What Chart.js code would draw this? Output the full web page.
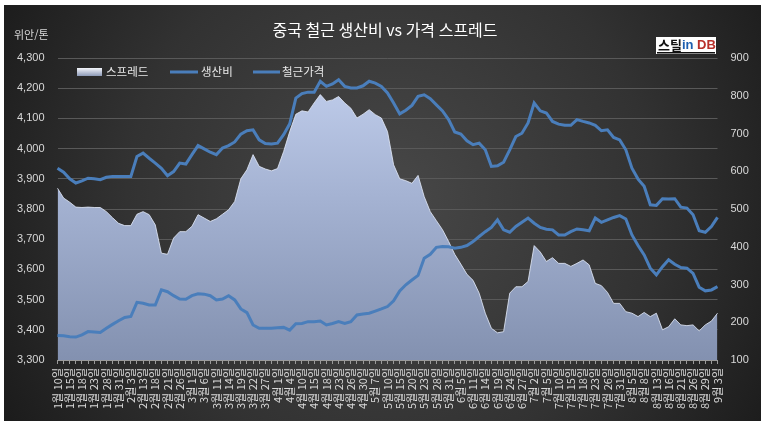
<!DOCTYPE html>
<html lang="ko">
<head>
<meta charset="utf-8">
<title>중국 철근 생산비 vs 가격 스프레드</title>
<script src="https://cdn.jsdelivr.net/npm/chart.js@4.4.1/dist/chart.umd.min.js"></script>
<style>
  html, body { margin: 0; padding: 0; background: #fff; }
  #wrap { position: relative; width: 765px; height: 425px; }
</style>
</head>
<body>
<div id="wrap"><canvas id="myChart"></canvas></div>
<script>
// labelled dates (one unlabelled point sits between each pair)
const tickDates = [
  "1월 10일", "1월 15일", "1월 18일", "1월 23일", "1월 28일", "1월 31일",
  "2월 3일", "2월 13일", "2월 18일", "2월 21일", "2월 26일",
  "3월 1일", "3월 6일", "3월 11일", "3월 14일", "3월 19일", "3월 22일", "3월 27일",
  "4월 1일", "4월 4일", "4월 10일", "4월 15일", "4월 18일", "4월 23일", "4월 26일", "4월 30일",
  "5월 7일", "5월 10일", "5월 15일", "5월 20일", "5월 23일", "5월 28일", "5월 31일",
  "6월 5일", "6월 11일", "6월 14일", "6월 19일", "6월 24일", "6월 27일",
  "7월 2일", "7월 5일", "7월 10일", "7월 15일", "7월 18일", "7월 23일", "7월 26일", "7월 31일",
  "8월 5일", "8월 8일", "8월 13일", "8월 16일", "8월 21일", "8월 26일", "8월 29일",
  "9월 3일",
];

// 스프레드 (right axis)
const spread = [
  555, 529, 518, 505, 504, 505, 504, 504, 493, 477, 462, 456, 456,
  486, 493, 485, 458, 383, 380, 423, 440, 440, 454, 485, 476,
  467, 474, 486, 498, 520, 580, 604, 644, 613, 606, 601, 607,
  652, 705, 751, 760, 757, 781, 803, 785, 789, 798, 781, 767,
  741, 751, 763, 750, 741, 705, 617, 580, 575, 568, 589, 533,
  493, 469, 445, 414, 380, 354, 327, 311, 277, 224, 184, 172,
  175, 277, 294, 294, 308, 403, 386, 361, 371, 356, 356, 348,
  356, 365, 352, 303, 297, 279, 250, 250, 228, 224, 215, 226,
  215, 224, 180, 188, 209, 193, 191, 193, 177, 193, 203, 224,
];

// 생산비 (left axis)
const cost = [
  3381, 3380, 3377, 3376, 3383, 3394, 3393, 3391, 3405, 3418, 3430, 3441, 3444,
  3491, 3488, 3482, 3482, 3532, 3526, 3513, 3502, 3501, 3513, 3519, 3518,
  3513, 3499, 3502, 3513, 3499, 3469, 3457, 3416, 3405, 3405, 3405, 3407,
  3408, 3399, 3420, 3421, 3427, 3427, 3429, 3416, 3421, 3427, 3421, 3427,
  3449, 3452, 3455, 3462, 3469, 3477, 3496, 3529, 3549, 3565, 3580, 3637,
  3650, 3673, 3676, 3675, 3670, 3673, 3679, 3692, 3709, 3725, 3739, 3764,
  3731, 3723, 3742, 3756, 3770, 3753, 3739, 3733, 3731, 3714, 3714, 3725,
  3734, 3731, 3728, 3770, 3756, 3764, 3772, 3778, 3767, 3714, 3679, 3648,
  3604, 3582, 3609, 3632, 3617, 3606, 3604, 3587, 3541, 3529, 3532, 3543,
];

// 철근가격 (left axis)
const price = [
  3935, 3922, 3900, 3886, 3893, 3902, 3900, 3897, 3905, 3908, 3908, 3908, 3908,
  3974, 3985, 3968, 3952, 3935, 3910, 3924, 3952, 3949, 3980, 4010, 3999,
  3988, 3980, 4002, 4010, 4022, 4048, 4059, 4062, 4029, 4017, 4015, 4018,
  4046, 4082, 4167, 4182, 4187, 4187, 4223, 4206, 4214, 4228, 4206, 4201,
  4201, 4208, 4223, 4217, 4206, 4184, 4151, 4115, 4127, 4143, 4173, 4178,
  4165, 4145, 4125, 4096, 4055, 4048, 4026, 4013, 4018, 3996, 3941, 3943,
  3955, 3996, 4040, 4051, 4085, 4151, 4125, 4118, 4090, 4081, 4077, 4077,
  4096, 4090, 4085, 4077, 4059, 4062, 4037, 4029, 3996, 3935, 3899, 3875,
  3814, 3812, 3834, 3833, 3834, 3806, 3803, 3781, 3728, 3723, 3742, 3772,
];

const labels = tickDates.flatMap((d, k) => (k === 0 ? [d] : ["", d]));

const KR = "'Noto Sans CJK KR', 'Noto Sans', sans-serif";
const NUM = "'Liberation Sans', Arial, sans-serif";
const LINE_BLUE = "#4a7ebb";
const TEXT = "#d9d9d9";

Chart.defaults.font.family = KR;

function spreadFill(context) {
  const area = context.chart.chartArea;
  if (!area) return "#9aa8c8";
  const g = context.chart.ctx.createLinearGradient(0, area.top, 0, area.bottom);
  g.addColorStop(0, "#c4d1ef");
  g.addColorStop(0.45, "#a5b3d3");
  g.addColorStop(1, "#8391b0");
  return g;
}

// background, title, unit, legend, logo
const decor = {
  id: "decor",
  beforeDraw(chart) {
    const ctx = chart.ctx;
    ctx.save();
    ctx.fillStyle = "#fff";
    ctx.fillRect(0, 0, chart.width, chart.height);
    const g = ctx.createRadialGradient(390, 200, 10, 390, 200, 470);
    g.addColorStop(0, "#474747");
    g.addColorStop(0.55, "#323232");
    g.addColorStop(1, "#181818");
    ctx.fillStyle = g;
    ctx.fillRect(4, 5, 757, 416);
    ctx.restore();
  },
  afterDraw(chart) {
    const ctx = chart.ctx;
    ctx.save();
    ctx.textBaseline = "middle";

    ctx.fillStyle = "#ffffff";
    ctx.font = "16px " + KR;
    ctx.textAlign = "center";
    ctx.fillText("중국 철근 생산비 vs 가격 스프레드", 385, 30);

    ctx.fillStyle = TEXT;
    ctx.font = "11px " + KR;
    ctx.textAlign = "left";
    ctx.fillText("위안/톤", 14, 35);

    // legend
    const ly = 72;
    const lg = ctx.createLinearGradient(0, ly - 4, 0, ly + 4);
    lg.addColorStop(0, "#f4f6fb");
    lg.addColorStop(1, "#8c99b6");
    ctx.fillStyle = lg;
    ctx.fillRect(77, ly - 4, 25, 8);
    ctx.strokeStyle = LINE_BLUE;
    ctx.lineWidth = 3;
    ctx.beginPath();
    ctx.moveTo(170, ly); ctx.lineTo(198, ly);
    ctx.moveTo(253, ly); ctx.lineTo(280, ly);
    ctx.stroke();
    ctx.fillStyle = "#e8e8e8";
    ctx.font = "11.5px " + KR;
    ctx.fillText("스프레드", 106, ly);
    ctx.fillText("생산비", 201, ly);
    ctx.fillText("철근가격", 282, ly);

    // logo
    ctx.fillStyle = "#ffffff";
    ctx.fillRect(656, 37, 60, 17);
    ctx.font = "bold 13px " + KR;
    ctx.fillStyle = "#111111";
    ctx.fillText("스틸", 658, 45);
    let x = 658 + ctx.measureText("스틸").width;
    ctx.font = "bold 13px " + NUM;
    ctx.fillStyle = "#1d5fb0";
    ctx.fillText("in", x, 45);
    x += ctx.measureText("in ").width;
    ctx.fillStyle = "#b8302a";
    ctx.fillText("DB", x, 45);
    ctx.fillStyle = "#111111";
    ctx.fillRect(657, 52, 58, 1.5);
    ctx.restore();
  },
};

const config = {
  type: "line",
  data: {
    labels: labels,
    datasets: [
      {
        label: "스프레드",
        data: spread,
        yAxisID: "y1",
        fill: "start",
        backgroundColor: spreadFill,
        borderColor: "rgba(222,229,244,0.85)",
        borderWidth: 1,
        pointRadius: 0,
        tension: 0,
        order: 3,
      },
      {
        label: "생산비",
        data: cost,
        yAxisID: "y",
        fill: false,
        borderColor: LINE_BLUE,
        borderWidth: 3,
        pointRadius: 0,
        tension: 0,
        order: 2,
      },
      {
        label: "철근가격",
        data: price,
        yAxisID: "y",
        fill: false,
        borderColor: LINE_BLUE,
        borderWidth: 3,
        pointRadius: 0,
        tension: 0,
        order: 1,
      },
    ],
  },
  options: {
    responsive: true,
    maintainAspectRatio: false,
    animation: false,
    layout: { padding: { top: 58, left: 0, right: 0, bottom: 0 } },
    plugins: {
      legend: { display: false },
      title: { display: false },
      tooltip: { enabled: false },
    },
    scales: {
      x: {
        type: "category",
        offset: false,
        grid: { drawOnChartArea: false, drawTicks: true, tickLength: 4, color: "#9a9a9a" },
        border: { display: true, color: "#9a9a9a" },
        ticks: {
          autoSkip: false,
          minRotation: 90,
          maxRotation: 90,
          padding: 4,
          color: TEXT,
          font: { family: KR, size: 11 },
        },
        afterFit(scale) { scale.height = 65; },
      },
      y: {
        position: "left",
        min: 3300,
        max: 4300,
        ticks: {
          stepSize: 100,
          padding: 13,
          color: TEXT,
          font: { family: NUM, size: 11 },
          callback: (v) => v.toLocaleString("en-US"),
        },
        grid: { color: "#595959", drawTicks: false },
        border: { display: false },
        afterFit(scale) { scale.width = 57.5; },
      },
      y1: {
        position: "right",
        min: 100,
        max: 900,
        ticks: {
          stepSize: 100,
          padding: 13,
          color: TEXT,
          font: { family: NUM, size: 11 },
        },
        grid: { display: false, drawTicks: false },
        border: { display: false },
        afterFit(scale) { scale.width = 47.5; },
      },
    },
  },
  plugins: [decor],
};

var myChart = new Chart(document.getElementById("myChart"), config);
</script>
</body>
</html>
